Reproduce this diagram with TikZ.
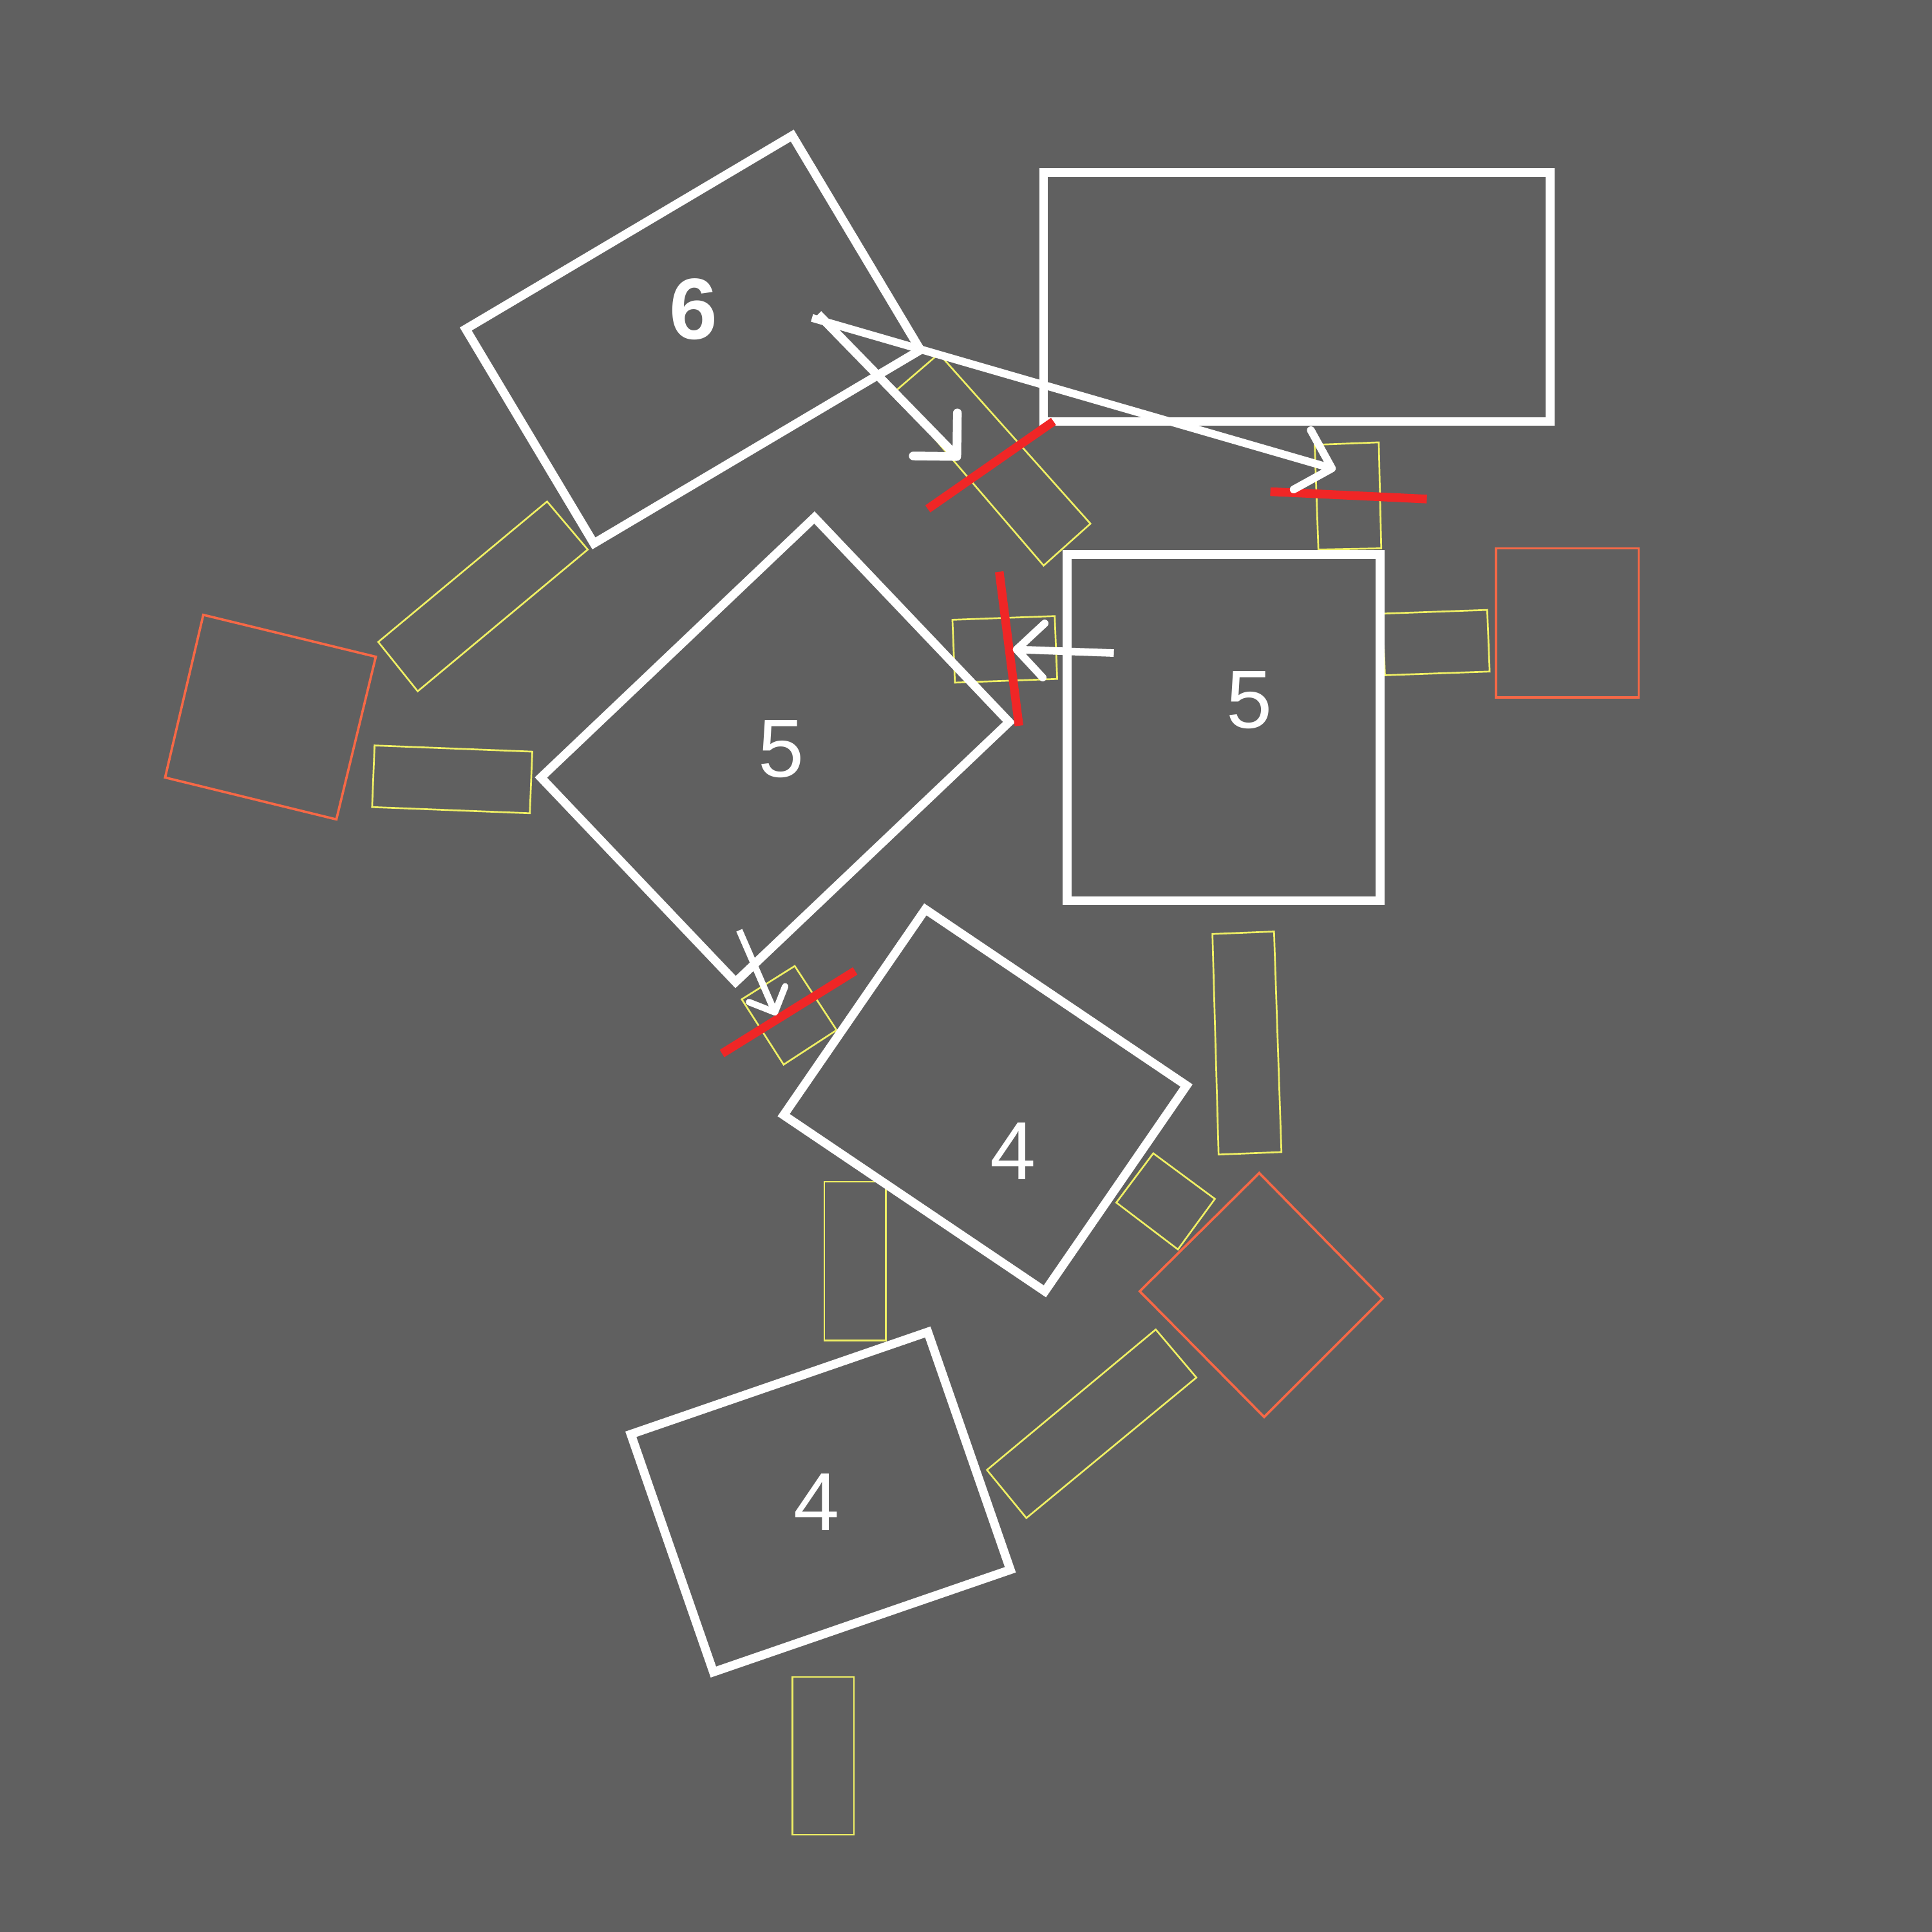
\documentclass[tikz,border=0pt]{standalone}
\usepackage{fontspec}
\setmainfont{Liberation Sans}
\usetikzlibrary{arrows.meta}

\definecolor{slate}{RGB}{96,96,96}
\definecolor{paleyellow}{RGB}{240,240,100}
\definecolor{coral}{RGB}{246,104,70}
\definecolor{cutred}{RGB}{240,38,38}

\begin{document}
\begin{tikzpicture}[x=0.01cm,y=-0.01cm,
                    big box/.style={draw=white,line width=2pt},
                    slot box/.style={draw=paleyellow,line width=0.4pt},
                    spare box/.style={draw=coral,line width=0.55pt},
                    cut line/.style={draw=cutred,line width=2pt},
                    count/.style={text=white,inner sep=0pt,font=\fontsize{19}{22}\selectfont},
                    move/.style={draw=white,line width=#1},
                    long tip/.style={-{Straight Barb[length=2.5mm,width=5mm,round]}},
                    mid tip/.style={-{Straight Barb[length=2.2mm,width=4.4mm,round]}},
                    short tip/.style={-{Straight Barb[length=1.6mm,width=3.2mm,round]}}]

  \fill[slate] (0,0) rectangle (1568,1568);

  % small slots
  \draw[slot box] (762,287) -- (885,425) -- (847,459) -- (726,318) -- cycle;
  \draw[slot box] (1067,361) -- (1119,359) -- (1121,445) -- (1070,446) -- cycle;
  \draw[slot box] (773,503) -- (856,500) -- (858,551) -- (775,554) -- cycle;
  \draw[slot box] (1122,498) -- (1207,495) -- (1209,545) -- (1124,548) -- cycle;
  \draw[slot box] (307,521) -- (444,407) -- (477,446) -- (339,561) -- cycle;
  \draw[slot box] (304,605) -- (432,610) -- (430,660) -- (302,655) -- cycle;
  \draw[slot box] (602,811) -- (645,784) -- (679,836) -- (636,864) -- cycle;
  \draw[slot box] (984,758) -- (1034,756) -- (1040,935) -- (989,937) -- cycle;
  \draw[slot box] (906,976) -- (936,936) -- (986,973) -- (956,1014) -- cycle;
  \draw[slot box] (669,959) rectangle (719,1088);
  \draw[slot box] (801,1193) -- (938,1079) -- (971,1118) -- (833,1232) -- cycle;
  \draw[slot box] (643,1361) rectangle (693,1489);

  % spare boxes
  \draw[spare box] (165,499) -- (305,533) -- (273,665) -- (134,631) -- cycle;
  \draw[spare box] (1214,445) rectangle (1330,566);
  \draw[spare box] (1022,952) -- (1122,1054) -- (1026,1150) -- (925,1048) -- cycle;

  % big boxes
  \draw[big box] (378,267) -- (643,110) -- (747,284) -- (482,441) -- cycle;
  \draw[big box] (847,140) rectangle (1258,342);
  \draw[big box] (661,420) -- (819,586) -- (597,797) -- (439,631) -- cycle;
  \draw[big box] (866,450) rectangle (1120,731);
  \draw[big box] (751,738) -- (963,881) -- (848,1048) -- (636,905) -- cycle;
  \draw[big box] (512,1164) -- (753,1081) -- (820,1274) -- (579,1357) -- cycle;

  \node[count,font=\fontsize{20}{23}\selectfont\bfseries] (six) at (563,251) {6};
  \node[count] (fiveA) at (634,608) {5};
  \node[count] (fiveB) at (1014,568) {5};
  \node[count] (fourA) at (822,934) {4};
  \node[count] (fourB) at (663,1219) {4};

  % cuts
  \draw[cut line] (753,413) -- (855,342);
  \draw[cut line] (1031,399) -- (1158,405);
  \draw[cut line] (811,464) -- (827,589);
  \draw[cut line] (586,855) -- (694,788);

  % moves
  \coordinate (m1) at (659,258);
  \coordinate (m2) at (664,255);
  \coordinate (t1) at (1084,381);
  \coordinate (t2) at (779,373);
  \coordinate (m3) at (904,530);
  \coordinate (t3) at (822,527);
  \coordinate (m4) at (600,755);
  \coordinate (t4) at (630,824);

  \path (m1) edge[move=1.8pt,long tip] (t1)
        (m2) edge[move=2pt,long tip] (t2)
        (m3) edge[move=1.75pt,mid tip] (t3)
        (m4) edge[move=1.5pt,short tip] (t4);
\end{tikzpicture}
\end{document}
